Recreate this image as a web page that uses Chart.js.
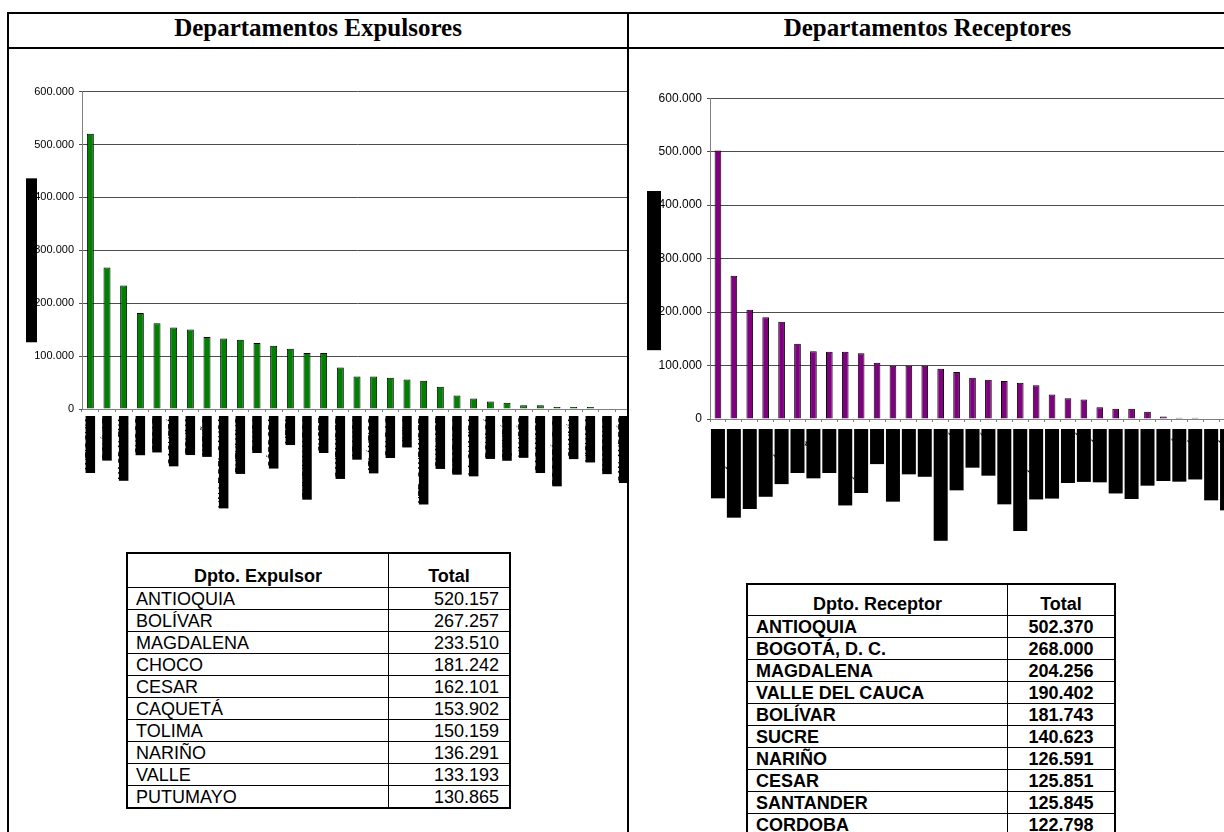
<!DOCTYPE html>
<html lang="es">
<head>
<meta charset="utf-8">
<title>Departamentos expulsores y receptores</title>
<script src="https://cdn.jsdelivr.net/npm/chart.js@4.4.1/dist/chart.umd.min.js"></script>
<style>
  html, body { margin: 0; padding: 0; background: #fff; }
  body { position: relative; width: 1224px; height: 832px; overflow: hidden; font-family: Arial, "Liberation Sans", sans-serif; }
  .rule { position: absolute; background: #000; }
  .head { position: absolute; top: 14px; height: 33px; line-height: 33px; text-align: center;
          font: bold 25px "Times New Roman", "Liberation Serif", serif; color: #000; }
  .clip { position: absolute; overflow: hidden; }
  .clip canvas { position: absolute; }
  table.dpto { position: absolute; border-collapse: collapse; border: 2px solid #000; font-size: 18px; color: #000; }
  table.dpto td, table.dpto th { border: 1px solid #000; padding: 0 8px; height: 21px; line-height: 20px; white-space: nowrap; }
  table.dpto th { font-weight: bold; vertical-align: bottom; padding-bottom: 1px; text-align: center; }
  #tabExp th { height: 32px; }
  #tabRec th { height: 29px; }
  #tabExp td.num { text-align: right; padding-right: 10px; }
  #tabRec td { font-weight: bold; }
  #tabRec td.num { text-align: center; }
</style>
</head>
<body>

<div class="rule" style="left:7px; top:12px; width:1230px; height:2px;"></div>
<div class="rule" style="left:7px; top:47px; width:1230px; height:2px;"></div>
<div class="rule" style="left:7px; top:12px; width:2px; height:830px;"></div>
<div class="rule" style="left:627px; top:12px; width:2px; height:830px;"></div>

<div class="head" style="left:9px; width:618px;">Departamentos Expulsores</div>
<div class="head" style="left:629px; width:597px;">Departamentos Receptores</div>

<div class="clip" style="left:9px; top:49px; width:618px; height:783px;">
  <canvas id="chartExp" width="612" height="460" style="left:11px; top:31px;"></canvas>
</div>
<div class="clip" style="left:629px; top:49px; width:595px; height:783px;">
  <canvas id="chartRec" width="595" height="460" style="left:11px; top:37px;"></canvas>
</div>

<table class="dpto" id="tabExp" style="left:126px; top:552px; width:385px;">
  <colgroup><col style="width:263px"><col style="width:122px"></colgroup>
  <thead><tr><th>Dpto. Expulsor</th><th>Total</th></tr></thead>
  <tbody></tbody>
</table>
<table class="dpto" id="tabRec" style="left:746px; top:583px; width:370px;">
  <colgroup><col style="width:262px"><col style="width:108px"></colgroup>
  <thead><tr><th>Dpto. Receptor</th><th>Total</th></tr></thead>
  <tbody></tbody>
</table>

<script>
// Personas expulsadas por departamento (orden descendente)
const expulsorLabels = [
  'ANTIOQUIA', 'BOLÍVAR', 'MAGDALENA', 'CHOCO', 'CESAR', 'CAQUETÁ', 'TOLIMA', 'NARIÑO',
  'VALLE DEL CAUCA', 'PUTUMAYO', 'CAUCA', 'CÓRDOBA', 'META', 'CUNDINAMARCA', 'SUCRE',
  'SANTANDER', 'ARAUCA', 'ATLÁNTICO', 'CALDAS', 'HUILA', 'NTE. SANTANDER', 'GUAVIARE',
  'RISARALDA', 'LA GUAJIRA', 'BOYACÁ', 'QUINDÍO', 'VAUPÉS', 'CASANARE', 'BOGOTÁ, D.C.',
  'GUAINÍA', 'VICHADA', 'AMAZONAS', 'SAN ANDRÉS'
];
const expulsorValues = [
  520157, 267257, 233510, 181242, 162101, 153902, 150159, 136291, 133193, 130865,
  124700, 119700, 114000, 105900, 105900, 78300, 61400, 61400, 58900, 55700,
  53200, 42000, 25700, 20000, 14400, 11900, 6900, 6900, 3800, 3800,
  3800, 0, 0
];
const expulsorTableNames = [
  'ANTIOQUIA', 'BOLÍVAR', 'MAGDALENA', 'CHOCO', 'CESAR',
  'CAQUETÁ', 'TOLIMA', 'NARIÑO', 'VALLE', 'PUTUMAYO'
];

// Personas recibidas por departamento (orden descendente)
const receptorLabels = [
  'ANTIOQUIA', 'BOGOTÁ, D. C.', 'MAGDALENA', 'VALLE DEL', 'BOLÍVAR', 'SUCRE', 'NARIÑO',
  'CESAR', 'SANTANDER', 'CÓRDOBA', 'META', 'RISARALDA', 'CAUCA', 'TOLIMA',
  'N. DE SANTANDER', 'CAQUETÁ', 'HUILA', 'CHOCÓ', 'LA GUAJIRA', 'CUNDINAMARCA',
  'ATLÁNTICO', 'PUTUMAYO', 'ARAUCA', 'BOYACÁ', 'QUINDÍO', 'GUAVIARE', 'CASANARE',
  'VICHADA', 'CALDAS', 'GUAINÍA', 'VAUPÉS', 'AMAZONAS', 'SAN ANDRÉS'
];
const receptorValues = [
  502370, 268000, 204256, 190402, 181743, 140623, 126591, 125851, 125845, 122798,
  105000, 99400, 99400, 99400, 93900, 87800, 77200, 73500, 71000, 68000,
  63000, 45700, 39000, 36400, 22200, 19100, 19100, 13500, 4900, 2400,
  2400, 0, 0
];
const receptorTableNames = [
  'ANTIOQUIA', 'BOGOTÁ, D. C.', 'MAGDALENA', 'VALLE DEL CAUCA', 'BOLÍVAR',
  'SUCRE', 'NARIÑO', 'CESAR', 'SANTANDER', 'CORDOBA'
];

const yMax = 600000;
const yStep = 100000;
const yTitle = 'Número de personas desplazadas';

const miles = v => String(v).replace(/\B(?=(\d{3})+(?!\d))/g, '.');

// black box drawn over the rotated y axis title
const redactedTitle = {
  id: 'redactedTitle',
  afterDraw(chart, args, opts) {
    if (!opts.text) return;
    const { ctx, chartArea, scales } = chart;
    const font = Chart.helpers.toFont(opts.font);
    ctx.save();
    ctx.font = font.string;
    const w = ctx.measureText(opts.text).width + 4;
    const cx = scales.y.left + opts.inset + opts.thickness / 2;
    const cy = (chartArea.top + chartArea.bottom) / 2 + opts.shift;
    ctx.translate(cx, cy);
    ctx.rotate(-Math.PI / 2);
    ctx.fillStyle = '#000';
    ctx.fillRect(-w / 2, -opts.thickness / 2, w, opts.thickness);
    ctx.textAlign = 'center';
    ctx.textBaseline = 'middle';
    ctx.fillText(opts.text, 0, 0);
    ctx.restore();
  }
};

function buildChart(id, labels, values, cfg) {
  const lh = cfg.labelFont.size * cfg.labelFont.lineHeight;
  return new Chart(document.getElementById(id), {
    type: 'bar',
    data: {
      labels: labels,
      datasets: [{
        data: values,
        backgroundColor: cfg.color,
        borderColor: '#000',
        borderWidth: 1,
        barPercentage: 0.42,
        categoryPercentage: 1
      }]
    },
    plugins: [redactedTitle],
    options: {
      responsive: false,
      animation: false,
      devicePixelRatio: 1,
      layout: { padding: { top: 10, right: 0, bottom: 0, left: 0 } },
      plugins: {
        legend: { display: false },
        tooltip: { enabled: false },
        redactedTitle: cfg.title
      },
      scales: {
        x: {
          grid: { drawOnChartArea: false, tickLength: 3, color: '#808080' },
          border: { color: '#808080' },
          ticks: {
            autoSkip: false,
            minRotation: 90,
            maxRotation: 90,
            padding: cfg.labelPad,
            labelOffset: -lh / 2,
            color: '#000',
            showLabelBackdrop: true,
            backdropColor: '#000',
            backdropPadding: cfg.labelBox,
            font: cfg.labelFont
          },
          afterFit: s => { s.height = cfg.xHeight; s.paddingLeft = 0; s.paddingRight = 0; }
        },
        y: {
          min: 0,
          max: yMax,
          grid: { color: '#4d4d4d', tickLength: 3 },
          border: { color: '#808080' },
          ticks: {
            stepSize: yStep,
            padding: 5,
            color: '#000',
            font: { family: 'Arial', size: cfg.tickSize },
            callback: v => miles(v)
          },
          afterFit: s => { s.width = cfg.yWidth; }
        }
      }
    }
  });
}

buildChart('chartExp', expulsorLabels, expulsorValues, {
  color: '#008000',
  labelFont: { family: 'Arial', size: 10, lineHeight: 0.65 },
  labelBox: { top: 1.5, bottom: 1.5, left: 1, right: 1 },
  labelPad: 5,
  xHeight: 131,
  yWidth: 62,
  tickSize: 11,
  title: { text: yTitle, font: { family: 'Arial', size: 10.5 }, thickness: 11, inset: 6, shift: 10 }
});

buildChart('chartRec', receptorLabels, receptorValues, {
  color: '#800080',
  labelFont: { family: 'Arial', size: 12, weight: 'bold', lineHeight: 1 },
  labelBox: 1,
  labelPad: 8,
  xHeight: 127,
  yWidth: 70,
  tickSize: 12,
  title: { text: yTitle, font: { family: 'Arial', size: 10.2 }, thickness: 14, inset: 7, shift: 12 }
});

// tablas con los diez primeros departamentos
function fillTable(id, names, values) {
  const body = document.querySelector('#' + id + ' tbody');
  names.forEach((name, i) => {
    const tr = document.createElement('tr');
    const a = document.createElement('td');
    a.textContent = name;
    const b = document.createElement('td');
    b.className = 'num';
    b.textContent = miles(values[i]);
    tr.appendChild(a);
    tr.appendChild(b);
    body.appendChild(tr);
  });
}
fillTable('tabExp', expulsorTableNames, expulsorValues);
fillTable('tabRec', receptorTableNames, receptorValues);
</script>
</body>
</html>
